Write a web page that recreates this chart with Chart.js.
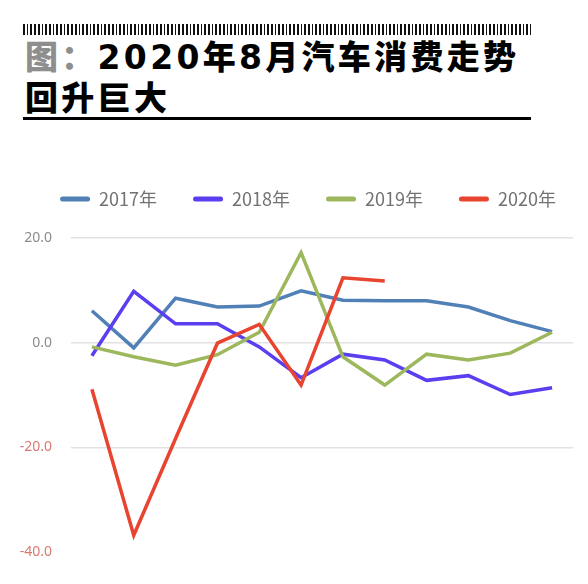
<!DOCTYPE html>
<html>
<head>
<meta charset="utf-8">
<script src="https://cdn.jsdelivr.net/npm/chart.js@4/dist/chart.umd.min.js"></script>
<style>
  body { margin: 0; background: #fff; width: 588px; height: 584px; position: relative; overflow: hidden; }
  #ticks { position: absolute; left: 23px; top: 24px; width: 508px; height: 11px;
    background: repeating-linear-gradient(90deg, #111 0 1.7px, #fff 1.7px 3.7px); }
  #title { position: absolute; left: 25px; top: 37px; font-family: "DejaVu Sans", "Noto Sans CJK SC", sans-serif;
    font-size: 33px; line-height: 41px; font-weight: 900; letter-spacing: 3.3px; color: #000; white-space: nowrap; }
  #title .g { color: #8e8e8e; }
  #rule { position: absolute; left: 23px; top: 117px; width: 508px; height: 3px; background: #000; }
  #myChart { position: absolute; left: 0; top: 150px; }
</style>
</head>
<body>
<div id="ticks"></div>
<div id="title"><span class="g">图：</span>2020年8月汽车消费走势<br>回升巨大</div>
<div id="rule"></div>
<canvas id="myChart" width="588" height="434"></canvas>
<script>
// months (x axis is hidden in the picture)
let months = ["1月", "2月", "3月", "4月", "5月", "6月", "7月", "8月", "9月", "10月", "11月", "12月"];
let yearNames = ["2017年", "2018年", "2019年", "2020年"];
let colors = ["#5180b6", "#5a3ff0", "#9db75c", "#e8442f"];

// values
let y2017 = [6.1, -1.0, 8.5, 6.8, 7.0, 9.9, 8.1, 8.0, 8.0, 6.8, 4.2, 2.1];
let y2018 = [-2.5, 9.8, 3.6, 3.6, -0.8, -6.7, -2.2, -3.3, -7.2, -6.3, -9.9, -8.6];
let y2019 = [-0.8, -2.7, -4.3, -2.3, 2.0, 17.2, -2.7, -8.1, -2.2, -3.3, -2.0, 2.0];
let y2020 = [-8.9, -36.8, -18.3, -0.1, 3.5, -8.1, 12.4, 11.8];

let yTicks = [-40, -20, 0, 20];

let series = [y2017, y2018, y2019, y2020];

let ctx = document.getElementById("myChart").getContext("2d");
let myChart = new Chart(ctx, {
    type: "line",
    data: {
        labels: months,
        datasets: series.map((vals, i) => ({
            label: yearNames[i],
            data: vals,
            borderColor: colors[i],
            backgroundColor: colors[i],
            borderWidth: 3.5,
            pointRadius: 0,
            tension: 0,
            fill: false,
            order: 4 - i // later years drawn on top
        }))
    },
    options: {
        responsive: false,
        animation: false,
        // negative right padding gives the legend room for one row
        layout: { padding: { left: 18, right: -10, top: 4, bottom: 32 } },
        plugins: {
            tooltip: { enabled: false },
            legend: {
                position: "top",
                labels: {
                    boxWidth: 30,
                    boxHeight: 5,
                    padding: 36,
                    color: "#727272",
                    font: { family: "Noto Sans CJK SC", size: 18 },
                    useBorderRadius: true,
                    borderRadius: 2.5,
                    sort: (a, b) => a.datasetIndex - b.datasetIndex,
                    generateLabels: (chart) => {
                        let items = Chart.defaults.plugins.legend.labels.generateLabels(chart);
                        items.forEach((it) => { it.lineWidth = 0; });
                        return items;
                    }
                }
            }
        },
        scales: {
            x: {
                type: "category",
                position: "top",
                offset: true,
                grid: { display: false },
                border: { display: false },
                ticks: { display: false },
                afterFit: (axis) => { axis.height = 20; }
            },
            y: {
                min: -40,
                max: 20,
                afterBuildTicks: (axis) => { axis.ticks = yTicks.map((v) => ({ value: v })); },
                afterFit: (axis) => { axis.width = 53; },
                border: { display: false },
                grid: {
                    drawTicks: false,
                    lineWidth: 1.5,
                    color: (c) => (c.tick && c.tick.value === -40 ? "rgba(0,0,0,0)" : "#e2e2e2")
                },
                ticks: {
                    padding: 19,
                    font: { family: "Noto Sans", size: 14 },
                    color: (c) => (c.tick.value < 0 ? "#d97a72" : "#8c8c8c"),
                    callback: (v) => v.toFixed(1)
                }
            },
            // empty right axis, only keeps the plot off the right edge
            yRight: {
                position: "right",
                display: true,
                grid: { display: false },
                border: { display: false },
                ticks: { display: false },
                afterFit: (axis) => { axis.width = 25; }
            }
        }
    }
});
</script>
</body>
</html>
